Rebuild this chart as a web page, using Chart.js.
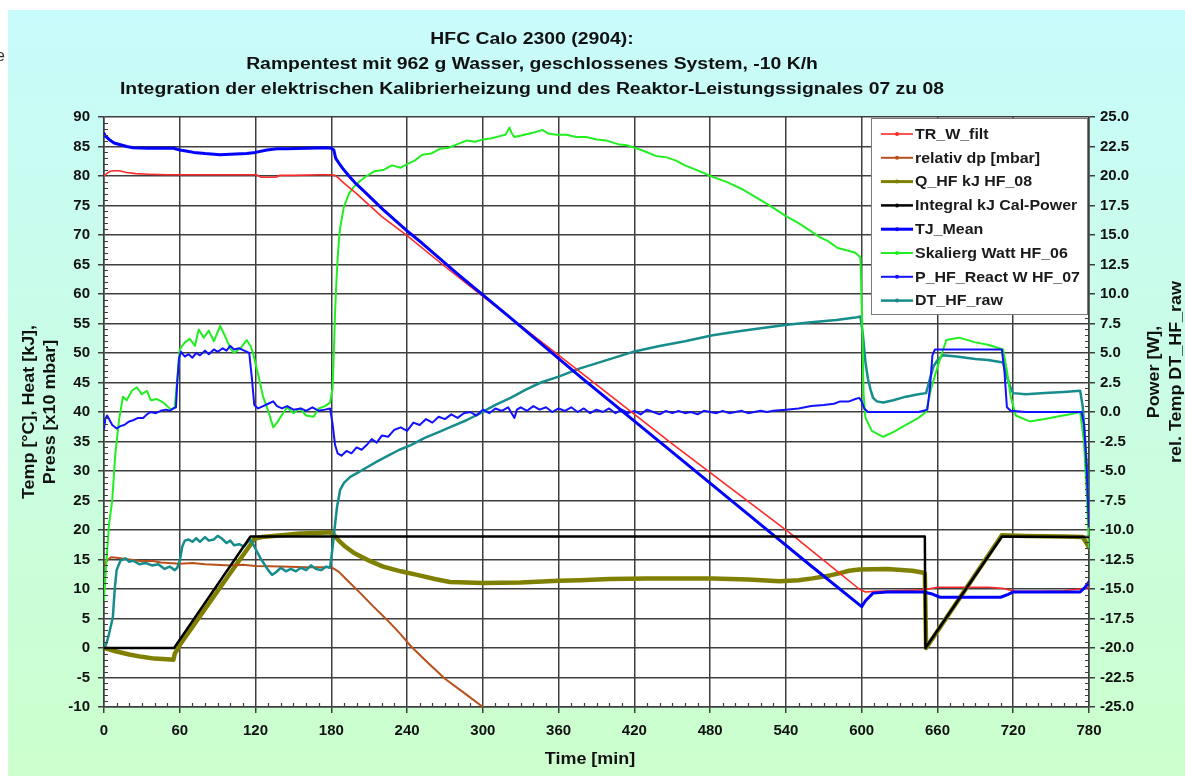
<!DOCTYPE html>
<html>
<head>
<meta charset="utf-8">
<title>HFC Calo 2300 (2904)</title>
<script src="https://cdn.jsdelivr.net/npm/chart.js@4.4.1/dist/chart.umd.min.js"></script>
<style>
  html, body { margin: 0; padding: 0; background: #fff; }
  canvas { display: block; }
</style>
</head>
<body>
<canvas id="calo" width="1185" height="776"></canvas>
<script>
const FONT = "'Liberation Sans', Arial, Helvetica, sans-serif";

// Texts
const titleLines = [
  'HFC Calo 2300 (2904):',
  'Rampentest mit 962 g Wasser, geschlossenes System, -10 K/h',
  'Integration der elektrischen Kalibrierheizung und des Reaktor-Leistungssignales 07 zu 08'
];
const xTitle = 'Time [min]';
const yLeftTitle = ['Temp [°C], Heat [kJ],', 'Press [x10 mbar]'];
const yRightTitle = ['Power [W],', 'rel. Temp DT_HF_raw'];
const seriesNames = [
  'TR_W_filt', 'relativ dp [mbar]', 'Q_HF kJ HF_08', 'Integral kJ Cal-Power',
  'TJ_Mean', 'Skalierg Watt HF_06', 'P_HF_React W HF_07', 'DT_HF_raw'
];

// Axis ranges / tick steps
const xRange = [0, 780], xStep = 60;
const leftRange = [-10, 90], leftStep = 5;
const rightRange = [-25, 25], rightStep = 2.5;

// Series: [time min, value]
const trWFilt = [[0,80.0],[2,80.4],[5,80.8],[8,80.9],[12,80.9],[18,80.6],[25,80.4],[35,80.3],[50,80.2],[70,80.2],[90,80.2],[110,80.2],[121,80.2],[124,79.8],[136,79.8],[139,80.1],[150,80.1],[170,80.2],[180,80.2],[183,80.1],[186,79.6],[190,78.8],[200,77.0],[220,73.1],[240,69.9],[268,65.0],[300,59.6],[377,46.8],[450,34.6],[543,19.5],[580,13.1],[598,10.0],[603,9.5],[610,9.6],[625,9.7],[640,9.8],[650,9.9],[660,10.3],[680,10.3],[700,10.3],[712,10.1],[722,9.6],[740,9.6],[760,9.7],[773,10.0],[780,10.3]];

const relDp = [[0,14.0],[3,15.0],[6,15.4],[10,15.3],[20,15.0],[30,14.7],[38,14.8],[45,14.5],[60,14.3],[70,14.4],[80,14.2],[100,14.0],[110,14.1],[120,13.9],[140,13.8],[160,13.7],[180,13.7],[186,12.9],[192,11.6],[203,9.3],[213,7.1],[224,4.8],[235,2.3],[243,0.3],[255,-2.2],[270,-5.2],[287,-7.9],[300,-10.0]];

const qHf08 = [[0,0],[5,-0.3],[10,-0.6],[20,-1.1],[30,-1.5],[40,-1.8],[50,-1.9],[55,-2.0],[56,-1.0],[60,0.5],[80,6.6],[100,12.7],[116,17.5],[119,18.5],[125,18.8],[134,19.0],[145,19.2],[155,19.4],[170,19.5],[179,19.6],[182,19.2],[186,18.2],[191,17.2],[198,16.1],[210,14.8],[221,13.8],[235,13.0],[248,12.4],[262,11.7],[274,11.2],[300,11.0],[330,11.1],[360,11.4],[377,11.5],[400,11.7],[430,11.8],[460,11.8],[482,11.8],[510,11.6],[535,11.3],[550,11.5],[561,11.8],[575,12.3],[583,12.7],[590,13.1],[598,13.3],[620,13.4],[640,13.1],[648,12.8],[650,12.7],[651,0],[711,19.1],[730,19.0],[760,18.9],[775,18.8],[778,17.8],[780,17.0]];

const integralCal = [[0,0],[55.5,0],[116,18.9],[650,18.9],[650.5,0],[711,18.9],[780,18.8]];

const tjMean = [[0,87.2],[1,86.8],[4,86.2],[8,85.6],[13,85.3],[18,85.0],[23,84.8],[35,84.7],[55,84.7],[60,84.4],[66,84.2],[71,84.0],[80,83.8],[92,83.6],[100,83.7],[113,83.8],[120,84.0],[129,84.4],[137,84.6],[145,84.6],[160,84.7],[177,84.8],[180,84.7],[182,84.4],[183.5,83.0],[186,82.2],[189,81.3],[194,80.0],[199.5,78.7],[205,77.6],[221,74.3],[240,70.7],[252,68.6],[279,63.6],[320,56.3],[377,46.0],[450,33.2],[528,19.5],[560,13.9],[600,7.0],[603,8.0],[609,9.3],[620,9.5],[649,9.5],[655,9.2],[662,8.6],[690,8.6],[710,8.6],[716,9.1],[720,9.5],[740,9.5],[773,9.5],[777,10.3],[780,11.2]];

const skaliergWatt = [[0,-16.0],[2,-12.5],[4,-9.5],[6.5,-7.5],[9,-3.5],[12,-0.6],[15,1.3],[18,1.0],[22,1.8],[26,2.1],[30,1.5],[34,1.8],[37,1.0],[42,1.1],[47,0.8],[53,0.2],[56,0.4],[58,2.8],[60,5.3],[64,5.9],[68,6.2],[72,5.6],[75,7.0],[79,6.3],[83,6.9],[87,6.0],[92,7.3],[96,6.4],[100,5.4],[103,5.0],[108,5.4],[113,6.1],[116,5.6],[118,5.0],[122,3.2],[126,1.3],[130,0.1],[134,-1.3],[137,-0.9],[140,-0.4],[145,0.4],[150,-0.1],[155,0.3],[160,-0.3],[166,-0.4],[170,0.3],[175,0.5],[179,0.8],[181,2.0],[182,5.0],[183,8.5],[184,11.0],[185,13.0],[186,14.5],[187,15.6],[190,17.4],[194,18.5],[198,19.1],[203,19.6],[208,20.0],[214,20.4],[221,20.5],[228,20.9],[235,20.7],[240,21.0],[246,21.3],[252,21.8],[259,21.9],[266,22.3],[273,22.4],[280,22.7],[287,23.0],[294,22.9],[300,23.1],[307,23.2],[314,23.4],[318,23.5],[321,24.1],[323,23.6],[325,23.3],[333,23.5],[341,23.7],[347,23.9],[352,23.6],[358,23.5],[366,23.5],[374,23.3],[382,23.3],[390,23.1],[398,23.0],[407,22.7],[414,22.6],[420,22.4],[428,22.1],[437,21.7],[445,21.6],[453,21.3],[460,20.9],[467,20.6],[474,20.3],[480,20.0],[493,19.5],[505,18.9],[513,18.4],[521,17.9],[530,17.3],[540,16.6],[550,16.0],[560,15.3],[567,14.8],[573,14.5],[581,13.9],[588,13.7],[595,13.5],[599,13.1],[600.5,7.0],[601.5,1.5],[603,-0.5],[608,-1.6],[617,-2.1],[625,-1.7],[635,-1.1],[645,-0.5],[651,0.0],[655,2.0],[660,3.8],[667,6.1],[677,6.3],[690,5.9],[700,5.7],[712,5.3],[715,3.5],[718,1.3],[722,-0.3],[733,-0.8],[745,-0.6],[754,-0.4],[765,-0.2],[773,0.0],[776,-2.5],[778,-6.5],[780,-11.5]];

const pHfReact = [[0,-1.5],[1,-0.6],[2.5,-0.3],[4,-0.6],[6.5,-1.1],[10,-1.4],[13,-1.2],[16,-1.1],[20,-0.8],[23,-0.7],[27,-0.5],[31,-0.5],[34,-0.2],[37,0.0],[41,-0.1],[45,0.1],[49,0.2],[52,0.1],[55,0.3],[57,0.4],[58,2.5],[59.5,4.6],[61,5.1],[64,4.7],[67,4.9],[70,4.6],[73,5.0],[76,4.8],[80,5.2],[83,4.9],[87,5.3],[90,5.1],[94,5.4],[97,5.2],[100,5.6],[103,5.3],[107,5.4],[111,5.2],[115,5.0],[117,3.0],[119,0.6],[122,0.3],[126,0.5],[130,0.7],[134,0.9],[137,0.5],[141,0.3],[145,0.5],[150,0.2],[156,0.3],[160,0.1],[165,0.4],[170,0.1],[175,0.2],[179,0.3],[181,-1.0],[183,-2.8],[185,-3.5],[188,-3.7],[192,-3.3],[196,-3.5],[200,-3.0],[204,-3.2],[208,-2.8],[212,-2.3],[216,-2.6],[220,-2.0],[225,-2.1],[230,-1.5],[235,-1.3],[240,-1.6],[245,-0.9],[250,-1.1],[255,-0.6],[260,-0.9],[265,-0.4],[270,-0.6],[275,-0.2],[280,-0.5],[285,-0.1],[290,0.0],[295,-0.3],[300,0.2],[305,-0.1],[310,0.3],[315,0.1],[320,0.4],[325,-0.5],[327,0.2],[330,0.4],[335,0.1],[340,0.5],[345,0.2],[350,0.4],[355,0.0],[360,0.3],[365,0.1],[370,0.4],[375,0.0],[380,0.3],[385,-0.1],[390,0.2],[395,0.0],[400,0.3],[405,-0.1],[410,0.2],[415,-0.1],[420,0.1],[425,-0.2],[430,0.2],[435,0.0],[440,-0.2],[445,0.1],[450,-0.1],[455,0.1],[460,-0.1],[465,0.0],[470,-0.2],[475,0.1],[480,0.0],[485,-0.1],[490,0.1],[495,-0.1],[500,0.0],[505,0.1],[510,-0.1],[515,0.0],[520,0.1],[525,0.0],[530,0.1],[540,0.2],[550,0.3],[560,0.5],[570,0.6],[578,0.7],[583,0.9],[590,0.9],[595,1.1],[598,1.2],[600,0.9],[602,0.3],[605,0.0],[615,0.0],[625,0.0],[635,0.0],[645,0.0],[652,0.2],[654,2.0],[656,4.8],[658,5.3],[670,5.3],[685,5.3],[700,5.3],[711,5.3],[713,3.5],[715,0.4],[718,0.1],[730,0.0],[745,0.0],[760,0.0],[774,0.0],[776,-1.0],[778,-4.5],[780,-9.7]];

const dtHfRaw = [[0,-20.0],[2,-19.6],[4,-18.8],[7,-17.4],[8.5,-15.0],[10,-13.4],[13,-12.6],[17,-12.4],[20,-12.7],[23,-12.6],[28,-12.9],[33,-12.8],[38,-13.0],[43,-12.9],[48,-13.3],[52,-13.1],[56,-13.4],[58,-13.2],[60,-12.6],[62,-11.4],[64,-10.9],[67,-10.8],[70,-11.0],[73,-10.7],[76,-11.0],[80,-10.6],[83,-10.9],[87,-10.8],[90,-10.5],[93,-10.7],[97,-11.1],[100,-10.9],[103,-11.3],[107,-11.2],[111,-11.4],[114,-11.0],[116,-10.8],[118,-11.2],[121,-11.8],[124,-12.4],[127,-12.9],[130,-13.4],[133,-13.8],[136,-13.6],[140,-13.2],[144,-13.5],[148,-13.3],[152,-13.5],[156,-13.2],[160,-13.4],[164,-13.0],[168,-13.3],[172,-13.4],[176,-13.1],[179,-13.2],[181,-11.5],[183,-9.5],[184.6,-8.0],[187,-6.6],[190,-6.0],[195,-5.5],[200,-5.2],[208,-4.7],[216,-4.2],[225,-3.7],[234,-3.2],[243,-2.8],[254,-2.2],[265,-1.7],[276,-1.2],[287,-0.7],[298,-0.1],[310,0.6],[322,1.2],[334,1.9],[346,2.5],[360,3.0],[377,3.7],[398,4.4],[419,5.1],[440,5.6],[460,6.0],[482,6.5],[500,6.8],[520,7.1],[541,7.4],[560,7.6],[580,7.8],[595,8.0],[599,8.1],[601,6.5],[603,4.2],[605,2.8],[607,1.9],[609,1.2],[612,0.9],[617,0.8],[625,1.0],[635,1.3],[645,1.5],[651,1.6],[654,2.8],[657,3.9],[660,4.4],[664,4.8],[675,4.7],[690,4.5],[700,4.4],[712,4.2],[715,3.0],[718,2.0],[720,1.6],[730,1.5],[745,1.6],[760,1.7],[773,1.8],[775,0.5],[777,-2.5],[779,-6.0],[780,-8.9]];

const toXY = arr => arr.map(([x, y]) => ({ x, y }));

function line(label, data, color, width, axis, order) {
  return {
    label, data: toXY(data), borderColor: color, backgroundColor: color,
    borderWidth: width, yAxisID: axis, order,
    pointRadius: 0, fill: false, tension: 0, borderJoinStyle: 'round', borderCapStyle: 'round'
  };
}

const datasets = [
  line(seriesNames[0], trWFilt,      '#ff2a2a', 1.6, 'y',  3),
  line(seriesNames[1], relDp,        '#b8501c', 2.0, 'y',  7),
  line(seriesNames[2], qHf08,        '#808000', 4.5, 'y',  8),
  line(seriesNames[3], integralCal,  '#000000', 2.5, 'y',  1),
  line(seriesNames[4], tjMean,       '#0000ff', 3.0, 'y',  2),
  line(seriesNames[5], skaliergWatt, '#22ee22', 2.0, 'y2', 5),
  line(seriesNames[6], pHfReact,     '#1212ff', 2.0, 'y2', 4),
  line(seriesNames[7], dtHfRaw,      '#168c8c', 2.5, 'y2', 6)
];

const GRID = '#3e3e3e';

// Page and plot backgrounds
const backdrop = {
  id: 'backdrop',
  beforeDraw(chart) {
    const { ctx, width, height, chartArea: a } = chart;
    ctx.save();
    ctx.fillStyle = '#ffffff';
    ctx.fillRect(0, 0, width, height);
    const g = ctx.createLinearGradient(0, 10, 0, height);
    g.addColorStop(0, '#c8fbfb');
    g.addColorStop(1, '#ccffcc');
    ctx.fillStyle = g;
    ctx.fillRect(8, 10, width - 8, height - 10);
    ctx.fillStyle = '#ffffff';
    ctx.fillRect(a.left, a.top, a.right - a.left, a.bottom - a.top);
    ctx.restore();
  }
};

// Small inward minor ticks between the major grid lines
const minorTicks = {
  id: 'minorTicks',
  afterDatasetsDraw(chart) {
    const { ctx, chartArea: a, scales } = chart;
    ctx.save();
    ctx.strokeStyle = GRID;
    ctx.lineWidth = 1.2;
    ctx.beginPath();
    for (let t = xRange[0]; t <= xRange[1]; t += 10) {
      if (t % xStep === 0) continue;
      const px = Math.round(scales.x.getPixelForValue(t)) + 0.5;
      ctx.moveTo(px, a.bottom); ctx.lineTo(px, a.bottom - 4);
    }
    for (let v = leftRange[0]; v <= leftRange[1]; v += 1) {
      if (v % leftStep === 0) continue;
      const py = Math.round(scales.y.getPixelForValue(v)) + 0.5;
      ctx.moveTo(a.left, py); ctx.lineTo(a.left + 4, py);
    }
    for (let k = 0; k <= (rightRange[1] - rightRange[0]) * 2; k++) {
      if (k % 5 === 0) continue;
      const v = rightRange[0] + k * 0.5;
      const py = Math.round(scales.y2.getPixelForValue(v)) + 0.5;
      ctx.moveTo(a.right, py); ctx.lineTo(a.right - 4, py);
    }
    ctx.stroke();
    ctx.restore();
  }
};

function wideText(ctx, text, x, y, font, sx, angle, align) {
  ctx.save();
  ctx.translate(x, y);
  if (angle) ctx.rotate(angle);
  ctx.scale(sx, 1);
  ctx.font = font;
  ctx.textAlign = align || 'center';
  ctx.textBaseline = 'middle';
  ctx.fillText(text, 0, 0);
  ctx.restore();
}

// Titles, axis titles and the boxed legend
const annotations = {
  id: 'annotations',
  afterDraw(chart) {
    const { ctx, chartArea: a } = chart;
    ctx.save();
    ctx.fillStyle = '#111';
    const tf = 'bold 16px ' + FONT;
    titleLines.forEach((s, i) => wideText(ctx, s, 532, 40 + i * 25, tf, 1.21));

    const af = 'bold 16px ' + FONT;
    const midL = (a.top + a.bottom) / 2;
    wideText(ctx, yLeftTitle[0], 30, midL, af, 1.12, -Math.PI / 2);
    wideText(ctx, yLeftTitle[1], 51, midL, af, 1.12, -Math.PI / 2);
    wideText(ctx, yRightTitle[0], 1155, 372, af, 1.12, -Math.PI / 2);
    wideText(ctx, yRightTitle[1], 1177, 372, af, 1.12, -Math.PI / 2);
    wideText(ctx, xTitle, 590, 760, af, 1.12);

    // clipped label fragment at the page edge
    ctx.fillStyle = '#333';
    ctx.font = '16px ' + FONT;
    ctx.textAlign = 'left';
    ctx.textBaseline = 'alphabetic';
    ctx.fillText('e', -4, 61);

    // legend box
    const bx = 871, by = a.top + 1, bw = a.right - 1 - bx, bh = 197;
    ctx.fillStyle = '#ffffff';
    ctx.fillRect(bx, by, bw, bh);
    ctx.strokeStyle = '#7a7a7a';
    ctx.lineWidth = 1;
    ctx.strokeRect(bx + 0.5, by + 0.5, bw - 1, bh - 1);
    chart.data.datasets.forEach((ds, i) => {
      const y = by + 16 + i * 23.8;
      ctx.strokeStyle = ds.borderColor;
      ctx.lineWidth = Math.min(ds.borderWidth, 3);
      ctx.beginPath();
      ctx.moveTo(bx + 10, y); ctx.lineTo(bx + 42, y);
      ctx.stroke();
      ctx.fillStyle = ds.borderColor;
      ctx.beginPath();
      ctx.arc(bx + 26, y, 2, 0, Math.PI * 2);
      ctx.fill();
      ctx.fillStyle = '#1a1a1a';
      wideText(ctx, ds.label, bx + 44, y + 1, 'bold 14px ' + FONT, 1.14, 0, 'left');
    });
    ctx.restore();
  }
};

const tickFont = { family: FONT, size: 15, weight: 'bold' };

new Chart(document.getElementById('calo'), {
  type: 'line',
  data: { datasets },
  options: {
    responsive: false,
    animation: false,
    devicePixelRatio: 1,
    layout: { padding: { left: 8, top: 117, right: 0, bottom: 0 } },
    plugins: { legend: { display: false }, tooltip: { enabled: false }, title: { display: false } },
    scales: {
      x: {
        type: 'linear', min: xRange[0], max: xRange[1],
        ticks: { stepSize: xStep, autoSkip: false, maxRotation: 0, font: tickFont, color: '#111', padding: 9 },
        grid: { color: GRID, lineWidth: 1.5, tickLength: 6 },
        border: { color: GRID, width: 1.5 },
        afterFit(s) { s.height = 69; }
      },
      y: {
        position: 'left', min: leftRange[0], max: leftRange[1],
        ticks: { stepSize: leftStep, font: tickFont, color: '#111', padding: 8 },
        grid: { color: GRID, lineWidth: 1.5, tickLength: 6 },
        border: { color: GRID, width: 1.5 },
        afterFit(s) { s.width = 96; }
      },
      y2: {
        position: 'right', min: rightRange[0], max: rightRange[1],
        ticks: { stepSize: rightStep, font: tickFont, color: '#111', padding: 5,
                 callback: v => Number(v).toFixed(1) },
        grid: { drawOnChartArea: false, color: GRID, lineWidth: 1.5, tickLength: 6 },
        border: { color: GRID, width: 1.5 },
        afterFit(s) { s.width = 96; }
      }
    }
  },
  plugins: [backdrop, minorTicks, annotations]
});
</script>
</body>
</html>
